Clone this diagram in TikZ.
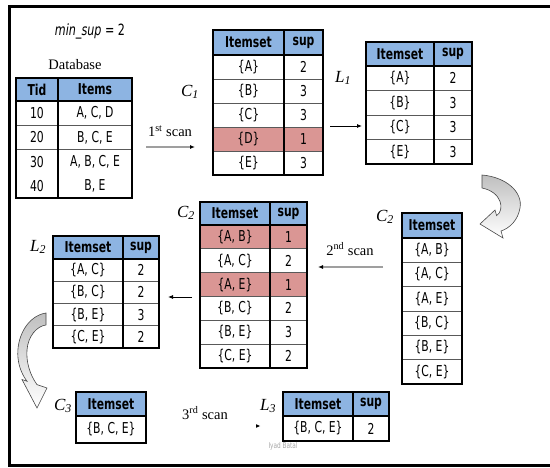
\documentclass[tikz,border=0pt]{standalone}
\usepackage{fontspec}
\setmainfont{Liberation Serif}
\newfontfamily\tabfont[FakeStretch=0.72]{DejaVu Sans}
\usetikzlibrary{matrix,arrows.meta}
\definecolor{hdr}{RGB}{141,180,226}
\definecolor{bad}{RGB}{218,150,148}
\newcommand{\tblframe}[3]{%
  \draw[border] (#1.north west) rectangle (#1.south east);
  \draw[border] (#1-1-1.south west) -- (#1-1-#3.south east);
  \ifnum#3>1 \draw[border] (#1-1-1.north east) -- (#1-#2-1.south east);\fi}
\newcommand{\tblrows}[3]{%
  \foreach \r in {#3} {\draw[rowline] (#1-\r-1.south west) -- (#1-\r-#2.south east);}}
\begin{document}
\begin{tikzpicture}[x=1pt,y=-1pt,
  tbl/.style={matrix of nodes, inner sep=0pt, outer sep=0pt, column sep=0pt, row sep=0pt,
    anchor=north west,
    nodes={inner sep=0pt, outer sep=0pt, anchor=center,
      font=\tabfont\fontsize{15}{15}\selectfont}},
  hdrcell/.style={fill=hdr, font=\tabfont\bfseries\fontsize{15}{15}\selectfont},
  badrow/.style={fill=bad},
  border/.style={line width=1.6pt, black},
  rowline/.style={line width=0.9pt, gray!70!black},
  lbl/.style={font=\fontsize{17}{17}\selectfont\itshape, inner sep=0pt},
  scantxt/.style={font=\fontsize{14.5}{14.5}\selectfont, inner sep=0pt},
  arr/.style={-{Latex[length=5pt,width=4pt]}, line width=0.8pt, black},
  scanarr/.style={-{Latex[length=5pt,width=4pt,black]}, line width=1.2pt, gray!75},
  blockarrow/.style={draw=gray!55!black, line width=0.6pt, top color=gray!50, bottom color=white}
]
\useasboundingbox (0,0) rectangle (550,468);
% frame
\draw[line width=3pt] (550,6.5) -- (9.5,6.5) -- (9.5,466) -- (550,466);

% texts
\node[inner sep=0pt, font=\tabfont\fontsize{15.5}{15.5}\selectfont] (minsup) at (90,31) {\itshape min\_sup\upshape{} = 2};
\node[scantxt] (dbt) at (75,65) {Database};

% Database
\matrix (db) [tbl,
  column 1/.style={nodes={minimum width=42pt}},
  column 2/.style={nodes={minimum width=74pt}},
  nodes={minimum height=24.25pt},
  row 1/.style={nodes={hdrcell, minimum height=23pt}}] at (16,78) {
  Tid & Items \\
  10 & A, C, D \\
  20 & B, C, E \\
  30 & A, B, C, E \\
  40 & B, E \\
};
\tblrows{db}{2}{2,3}
\tblframe{db}{5}{2}

% C1
\matrix (c1) [tbl,
  column 1/.style={nodes={minimum width=71pt}},
  column 2/.style={nodes={minimum width=39pt}},
  nodes={minimum height=24pt},
  row 1/.style={nodes={hdrcell, minimum height=25pt}},
  row 5/.style={nodes={badrow}}] at (213,30) {
  Itemset & sup \\
  \{A\} & 2 \\
  \{B\} & 3 \\
  \{C\} & 3 \\
  \{D\} & 1 \\
  \{E\} & 3 \\
};
\tblrows{c1}{2}{2,3,4,5}
\tblframe{c1}{6}{2}
\node[lbl] (c1l) at (190,92) {C\textsubscript{1}};

% L1
\matrix (l1) [tbl,
  column 1/.style={nodes={minimum width=68pt}},
  column 2/.style={nodes={minimum width=38pt}},
  nodes={minimum height=24.5pt},
  row 1/.style={nodes={hdrcell, minimum height=24pt}}] at (366,42) {
  Itemset & sup \\
  \{A\} & 2 \\
  \{B\} & 3 \\
  \{C\} & 3 \\
  \{E\} & 3 \\
};
\tblrows{l1}{2}{2,3,4}
\tblframe{l1}{5}{2}
\node[lbl] (l1l) at (343,78) {L\textsubscript{1}};

% C2 right
\matrix (c2r) [tbl,
  column 1/.style={nodes={minimum width=60pt}},
  nodes={minimum height=24.33pt},
  row 1/.style={nodes={hdrcell, minimum height=25pt}}] at (402,213) {
  Itemset \\
  \{A, B\} \\
  \{A, C\} \\
  \{A, E\} \\
  \{B, C\} \\
  \{B, E\} \\
  \{C, E\} \\
};
\tblrows{c2r}{1}{2,3,4,5,6}
\tblframe{c2r}{7}{1}
\node[lbl] (c2rl) at (385,217) {C\textsubscript{2}};

% C2 middle
\matrix (c2m) [tbl,
  column 1/.style={nodes={minimum width=70pt}},
  column 2/.style={nodes={minimum width=37pt}},
  nodes={minimum height=23.83pt},
  row 1/.style={nodes={hdrcell, minimum height=23pt}},
  row 2/.style={nodes={badrow}},
  row 4/.style={nodes={badrow}}] at (200,202) {
  Itemset & sup \\
  \{A, B\} & 1 \\
  \{A, C\} & 2 \\
  \{A, E\} & 1 \\
  \{B, C\} & 2 \\
  \{B, E\} & 3 \\
  \{C, E\} & 2 \\
};
\tblrows{c2m}{2}{2,3,4,5,6}
\tblframe{c2m}{7}{2}
\node[lbl] (c2ml) at (186,213) {C\textsubscript{2}};

% L2
\matrix (l2) [tbl,
  column 1/.style={nodes={minimum width=70pt}},
  column 2/.style={nodes={minimum width=36pt}},
  nodes={minimum height=22.25pt},
  row 1/.style={nodes={hdrcell, minimum height=23pt}}] at (53,236) {
  Itemset & sup \\
  \{A, C\} & 2 \\
  \{B, C\} & 2 \\
  \{B, E\} & 3 \\
  \{C, E\} & 2 \\
};
\tblrows{l2}{2}{2,3,4}
\tblframe{l2}{5}{2}
\node[lbl] (l2l) at (38,247) {L\textsubscript{2}};

% C3
\matrix (c3) [tbl,
  column 1/.style={nodes={minimum width=70pt}},
  nodes={minimum height=27pt},
  row 1/.style={nodes={hdrcell, minimum height=24pt}}] at (76,392) {
  Itemset \\
  \{B, C, E\} \\
};
\tblframe{c3}{2}{1}
\node[lbl] (c3l) at (63,406) {C\textsubscript{3}};

% L3
\matrix (l3) [tbl,
  column 1/.style={nodes={minimum width=70pt}},
  column 2/.style={nodes={minimum width=36pt}},
  nodes={minimum height=25pt},
  row 1/.style={nodes={hdrcell, minimum height=24pt}}] at (283,392) {
  Itemset & sup \\
  \{B, C, E\} & 2 \\
};
\tblframe{l3}{2}{2}
\node[lbl] (l3l) at (268,406) {L\textsubscript{3}};

% scans
\node[scantxt] (s1t) at (170,131) {1\textsuperscript{st} scan};
\coordinate (s1a) at (146,147);
\coordinate (s1b) at (195,147);
\draw[scanarr] (s1a) -- (s1b);

\coordinate (a1a) at (330,126);
\coordinate (a1b) at (362,126);
\draw[arr] (a1a) -- (a1b);

\node[scantxt] (s2t) at (350,249) {2\textsuperscript{nd} scan};
\coordinate (s2a) at (383,267);
\coordinate (s2b) at (318,267);
\draw[scanarr] (s2a) -- (s2b);

\coordinate (a2a) at (192,297);
\coordinate (a2b) at (168,297);
\draw[arr] (a2a) -- (a2b);

\node[scantxt] (s3t) at (205,413) {3\textsuperscript{rd} scan};
\coordinate (s3a) at (255,426);
\coordinate (s3b) at (260,426);
\fill[black] (s3b) -- (256,424.2) -- (256,427.8) -- cycle;

\node[inner sep=0pt, text=gray!70, font=\tabfont\fontsize{8}{8}\selectfont] (wm) at (283,446) {Iyad Batal};

% curved block arrows
\draw[blockarrow] (482,175) .. controls (506,177) and (523,192) .. (520,208)
  .. controls (518,220) and (510,228) .. (501,231)
  -- (503,238) -- (480,224) -- (495,210) -- (496.6,215.6)
  .. controls (505,210) and (502,192) .. (482,188) -- cycle;

\draw[blockarrow] (46,313) .. controls (27,316) and (16,338) .. (18,358)
  .. controls (19,368) and (23,376) .. (27,381.2)
  -- (22,379.5) -- (37,408) -- (47,388) -- (37,384.6)
  .. controls (30,375) and (26,362) .. (27,350)
  .. controls (28,336) and (37,326) .. (46,325) -- cycle;
\end{tikzpicture}
\end{document}
